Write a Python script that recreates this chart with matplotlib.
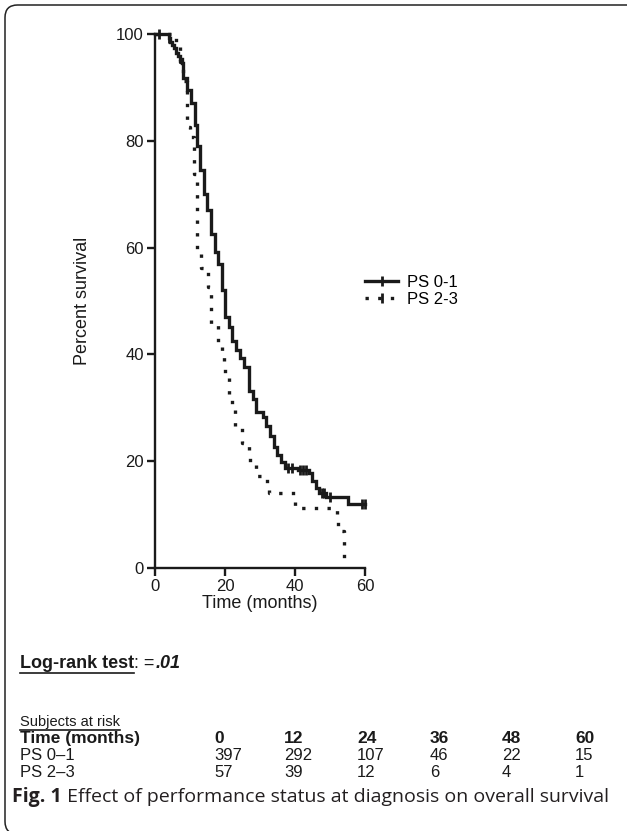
import numpy as np
import matplotlib
matplotlib.use("Agg")
import matplotlib.pyplot as plt
from matplotlib.lines import Line2D
from matplotlib.patches import FancyBboxPatch

plt.rcParams['font.family'] = ['Liberation Sans', 'DejaVu Sans']

# Kaplan-Meier steps (months, percent survival)
ps01_t = [0, 3.9, 4.4, 4.9, 5.5, 6.1, 6.6, 7.2, 7.8, 8.0, 9.2, 10.3, 11.4, 12.0, 12.8,
          13.9, 14.9, 16.1, 17.1, 18.1, 19.2, 20.1, 21.1, 22.1, 23.2, 24.4, 25.4, 26.8,
          27.9, 28.8, 30.8, 31.7, 32.8, 33.9, 34.9, 35.9, 37.0, 40.8, 44.0, 44.9, 45.9,
          46.8, 48.8, 55.0, 60.0]
ps01_s = [100, 99.2, 98.5, 98.0, 97.3, 96.5, 95.8, 95.3, 94.5, 91.7, 89.5, 87.0, 83.0, 79.0, 74.5,
          70.0, 67.0, 62.6, 59.2, 57.0, 52.0, 47.0, 45.2, 42.5, 40.8, 39.3, 37.6, 33.2,
          31.6, 29.3, 28.3, 26.5, 24.8, 22.7, 21.2, 19.9, 18.7, 18.4, 17.8, 16.2, 15.0,
          14.0, 13.3, 12.0, 12.0]
ps01_cens = [1.0, 3.9, 37.9, 39.1, 41.4, 42.2, 43.1, 47.6, 48.2, 49.9, 59.0, 60.0]

ps23_t = [0, 5.9, 7.0, 8.0, 9.1, 10.0, 11.0, 12.0, 13.1, 15.0, 16.1, 18.0, 19.0, 19.8,
          20.1, 21.0, 22.9, 24.9, 26.8, 27.2, 28.8, 31.9, 32.5, 40.1, 51.9, 52.2, 54.0]
ps23_s = [100, 98.2, 94.7, 91.2, 82.5, 80.7, 73.7, 59.6, 56.1, 52.6, 45.6, 42.1, 40.4, 38.6,
          36.1, 31.0, 26.3, 23.4, 21.6, 19.9, 17.2, 15.8, 14.0, 11.2, 8.8, 7.0, 0]

risk_times = ['0', '12', '24', '36', '48', '60']
risk_ps01 = ['397', '292', '107', '46', '22', '15']
risk_ps23 = ['57', '39', '12', '6', '4', '1']

W, H = 627, 831
fig = plt.figure(figsize=(W / 100, H / 100), dpi=100)


def fx(x):
    return x / W


def fy(y):
    return 1 - y / H


ink = '#1a1a1a'

# rounded frame (only left/top visible)
frame = FancyBboxPatch((fx(5), fy(834)), fx(700) - fx(5), fy(5) - fy(834),
                       boxstyle='round,pad=0,rounding_size=0.02', transform=fig.transFigure,
                       fill=False, edgecolor='#222222', linewidth=1.1, mutation_aspect=W / H)
fig.patches.append(frame)

ax = fig.add_axes([fx(155), fy(568), fx(365) - fx(155), fy(34) - fy(568)])
ax.step(ps01_t, ps01_s, where='post', color=ink, lw=2.4, solid_joinstyle='miter', clip_on=False)
ax.step(ps23_t, ps23_s, where='post', color=ink, lw=2.4, linestyle=(0, (1, 2.8)),
        dash_capstyle='butt', clip_on=False)

idx = np.searchsorted(ps01_t, ps01_cens, side='right') - 1
ax.plot(ps01_cens, np.array(ps01_s)[idx], linestyle='none', marker='|', ms=7, mew=2,
        color=ink, clip_on=False)

ax.set_xlim(0, 60)
ax.set_ylim(0, 100)
ax.set_xticks([0, 20, 40, 60])
ax.set_yticks([0, 20, 40, 60, 80, 100])
for s in ['top', 'right']:
    ax.spines[s].set_visible(False)
for s in ['left', 'bottom']:
    ax.spines[s].set_linewidth(1.7)
    ax.spines[s].set_color(ink)
ax.tick_params(width=1.7, length=6, color=ink, labelsize=12, labelcolor=ink, pad=2)
ax.set_ylabel('Percent survival', fontsize=13, color=ink, labelpad=18)
ax.set_xlabel('Time (months)', fontsize=13, color=ink, labelpad=1)

handles = [Line2D([], [], color=ink, lw=2.4, marker='|', ms=7, mew=2),
           Line2D([], [], color=ink, lw=2.4, linestyle=(0, (1, 2.8)), dash_capstyle='butt',
                  marker='|', ms=7, mew=2)]
ax.legend(handles, ['PS 0-1', 'PS 2-3'], loc='center left', frameon=False, fontsize=12,
          bbox_to_anchor=(fx(365), fy(291)), bbox_transform=fig.transFigure,
          borderpad=0, borderaxespad=0, handlelength=2.0, handletextpad=0.5,
          labelspacing=0.12, numpoints=1)

renderer = fig.canvas.get_renderer()


def underline(t, pad=1.5):
    bb = t.get_window_extent(renderer)
    fig.add_artist(Line2D([bb.x0 / W, bb.x1 / W], [(bb.y0 - pad) / H] * 2,
                          transform=fig.transFigure, color=ink, lw=1.2))


def after(t, gap=0):
    bb = t.get_window_extent(renderer)
    return (bb.x1 + gap) / W


# log-rank line
t1 = fig.text(fx(20), fy(668), 'Log-rank test', fontsize=13, fontweight='bold', color=ink)
underline(t1, 0.5)
t2 = fig.text(after(t1), fy(668), ': =', fontsize=13, color=ink)
t3 = fig.text(after(t2, 1), fy(668), '.01', fontsize=13, fontweight='bold',
              fontstyle='italic', color=ink)

# subjects at risk table
t4 = fig.text(fx(20), fy(726), 'Subjects at risk', fontsize=10.5, color=ink)
underline(t4, 0.5)
col_x = [214, 284, 357, 430, 502, 575]
rows = [('Time (months)', risk_times, 'bold', 743, 12.5),
        ('PS 0\u20131', risk_ps01, 'normal', 760, 12),
        ('PS 2\u20133', risk_ps23, 'normal', 777, 12)]
for name, vals, wt, yb, fs in rows:
    fig.text(fx(20), fy(yb), name, fontsize=fs, fontweight=wt, color=ink)
    for cx, v in zip(col_x, vals):
        fig.text(fx(cx), fy(yb), v, fontsize=fs, fontweight=wt, color=ink)

# caption
c1 = fig.text(fx(12), fy(802), 'Fig. 1', fontsize=14, fontweight='bold',
              family=['Open Sans', 'DejaVu Sans'], color='#231f20')
fig.text(after(c1), fy(802), ' Effect of performance status at diagnosis on overall survival',
         fontsize=14, family=['Open Sans', 'DejaVu Sans'], color='#231f20')

fig.savefig('out.png', dpi=100)
